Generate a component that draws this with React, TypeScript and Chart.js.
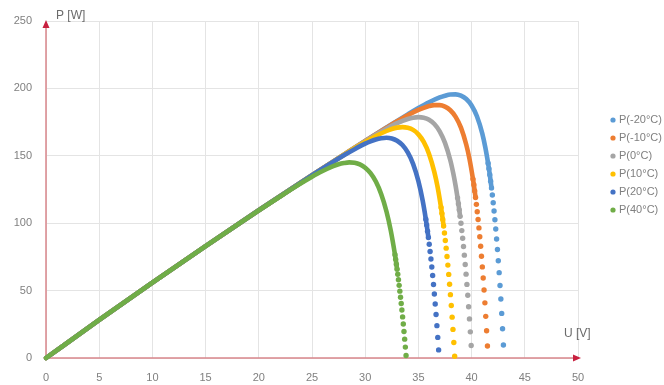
import React, { useEffect, useRef } from "react";
import { Chart, registerables } from "chart.js";

Chart.register(...registerables);

// ---- Data ----
const seriesLabels = ["P(-20°C)", "P(-10°C)", "P(0°C)", "P(10°C)", "P(20°C)", "P(40°C)"];
const seriesColors = ["#5B9BD5", "#ED7D31", "#A5A5A5", "#FFC000", "#4472C4", "#70AD47"];

const xTickValues = [0, 5, 10, 15, 20, 25, 30, 35, 40, 45, 50];
const yTickValues = [0, 50, 100, 150, 200, 250];

// P(-20°C)
const lineV_m20 = [0, 5, 10, 15, 20, 25, 28, 30, 32, 34, 35, 36, 37, 37.5, 38, 38.5, 39, 39.5, 40, 40.5, 41, 41.3, 41.55, 41.63, 41.71, 41.79, 41.87];
const lineP_m20 = [0, 28.2, 55.9, 83.0, 109.6, 135.6, 150.9, 161.0, 171.0, 180.7, 185.4, 189.7, 193.3, 194.6, 195.5, 195.6, 194.6, 192.1, 187.3, 179.3, 166.6, 155.8, 144.5, 140.4, 136.0, 131.2, 126.2];
const dotV_m20 = [41.55, 41.63, 41.71, 41.79, 41.87, 41.95, 42.03, 42.11, 42.19, 42.27, 42.35, 42.43, 42.51, 42.59, 42.67, 42.75, 42.83, 42.91, 42.99];
const dotP_m20 = [144.5, 140.4, 136.0, 131.2, 126.2, 120.9, 115.2, 109.1, 102.6, 95.7, 88.3, 80.5, 72.1, 63.3, 53.8, 43.8, 33.1, 21.7, 9.6];

// P(-10°C)
const lineV_m10 = [0, 5, 10, 15, 20, 25, 28, 30, 32, 33, 34, 35, 35.5, 36, 36.5, 37, 37.5, 38, 38.5, 39, 39.5, 39.8, 40.13, 40.21, 40.29, 40.37];
const lineP_m10 = [0, 28.2, 55.9, 83.0, 109.6, 135.6, 150.9, 161.0, 170.8, 175.6, 180.1, 184.0, 185.6, 186.9, 187.6, 187.6, 186.5, 183.8, 178.9, 170.9, 158.2, 147.7, 132.7, 128.5, 123.9, 119.1];
const dotV_m10 = [40.13, 40.21, 40.29, 40.37, 40.45, 40.53, 40.61, 40.69, 40.77, 40.85, 40.93, 41.01, 41.09, 41.17, 41.25, 41.33, 41.41, 41.49];
const dotP_m10 = [132.7, 128.5, 123.9, 119.1, 114.0, 108.5, 102.7, 96.5, 89.9, 82.9, 75.5, 67.6, 59.3, 50.4, 40.9, 30.9, 20.2, 8.9];

// P(0°C)
const lineV_0 = [0, 5, 10, 15, 20, 25, 28, 30, 31, 32, 33, 34, 34.5, 35, 35.5, 36, 36.5, 37, 37.5, 38, 38.3, 38.5, 38.68, 38.76, 38.84, 38.92];
const lineP_0 = [0, 28.2, 55.9, 83.0, 109.6, 135.6, 150.8, 160.8, 165.6, 170.1, 174.2, 177.3, 178.3, 178.7, 178.3, 176.8, 173.6, 168.2, 159.6, 146.7, 136.1, 127.6, 118.8, 114.5, 109.9, 105.1];
const dotV_0 = [38.68, 38.76, 38.84, 38.92, 39.0, 39.08, 39.16, 39.24, 39.32, 39.4, 39.48, 39.56, 39.64, 39.72, 39.8, 39.88, 39.96];
const dotP_0 = [118.8, 114.5, 109.9, 105.1, 100.0, 94.5, 88.8, 82.7, 76.3, 69.4, 62.2, 54.6, 46.5, 38.0, 29.0, 19.4, 9.3];

// P(10°C)
const lineV_10 = [0, 5, 10, 15, 20, 24, 27, 29, 30, 31, 32, 32.5, 33, 33.5, 34, 34.5, 35, 35.5, 36, 36.5, 36.8, 37.13, 37.21, 37.29, 37.37];
const lineP_10 = [0, 28.2, 55.9, 83.0, 109.6, 130.4, 145.7, 155.6, 160.3, 164.7, 168.4, 169.9, 170.9, 171.3, 170.8, 169.2, 165.9, 160.3, 151.4, 137.9, 127.0, 111.6, 107.3, 102.7, 97.9];
const dotV_10 = [37.13, 37.21, 37.29, 37.37, 37.45, 37.53, 37.61, 37.69, 37.77, 37.85, 37.93, 38.01, 38.09, 38.17, 38.25, 38.33, 38.41];
const dotP_10 = [111.6, 107.3, 102.7, 97.9, 92.7, 87.2, 81.5, 75.3, 68.9, 62.0, 54.7, 47.0, 38.9, 30.3, 21.2, 11.5, 1.3];

// P(20°C)
const lineV_20 = [0, 5, 10, 15, 20, 24, 26, 28, 29, 30, 30.5, 31, 31.5, 32, 32.5, 33, 33.5, 34, 34.5, 35, 35.4, 35.7, 35.78, 35.86, 35.94];
const lineP_20 = [0, 28.2, 55.9, 83.0, 109.6, 130.4, 140.6, 150.4, 154.9, 159.0, 160.7, 162.1, 163.0, 163.4, 162.9, 161.2, 158.0, 152.5, 144.0, 131.2, 116.8, 102.9, 98.6, 94.1, 89.4];
const dotV_20 = [35.7, 35.78, 35.86, 35.94, 36.02, 36.1, 36.18, 36.26, 36.34, 36.42, 36.5, 36.58, 36.66, 36.74, 36.82, 36.9];
const dotP_20 = [102.9, 98.6, 94.1, 89.4, 84.4, 79.0, 73.4, 67.5, 61.2, 54.5, 47.5, 40.1, 32.3, 24.0, 15.3, 6.0];

// P(40°C)
const lineV_40 = [0, 5, 10, 15, 18, 20, 22, 23, 24, 25, 25.5, 26, 26.5, 27, 27.5, 28, 28.5, 29, 29.5, 30, 30.5, 31, 31.5, 32, 32.4, 32.8, 32.865, 32.93, 32.995];
const lineP_40 = [0, 28.2, 55.9, 83.0, 99.0, 109.5, 119.8, 124.9, 129.8, 134.5, 136.7, 138.7, 140.6, 142.3, 143.7, 144.6, 145.1, 144.8, 143.6, 141.2, 137.1, 130.9, 121.7, 108.7, 94.7, 76.6, 73.2, 69.6, 65.9];
const dotV_40 = [32.8, 32.865, 32.93, 32.995, 33.06, 33.125, 33.19, 33.255, 33.32, 33.385, 33.45, 33.515, 33.58, 33.645, 33.71, 33.775, 33.84];
const dotP_40 = [76.6, 73.2, 69.6, 65.9, 62.1, 58.1, 53.9, 49.6, 45.1, 40.4, 35.6, 30.5, 25.2, 19.7, 14.0, 8.1, 1.9];

const xTitle = "U [V]";
const yTitle = "P [W]";

const seriesTable = [
  { lineV: lineV_m20, lineP: lineP_m20, dotV: dotV_m20, dotP: dotP_m20 },
  { lineV: lineV_m10, lineP: lineP_m10, dotV: dotV_m10, dotP: dotP_m10 },
  { lineV: lineV_0, lineP: lineP_0, dotV: dotV_0, dotP: dotP_0 },
  { lineV: lineV_10, lineP: lineP_10, dotV: dotV_10, dotP: dotP_10 },
  { lineV: lineV_20, lineP: lineP_20, dotV: dotV_20, dotP: dotP_20 },
  { lineV: lineV_40, lineP: lineP_40, dotV: dotV_40, dotP: dotP_40 },
];

const FONT = '"Liberation Sans", Arial, sans-serif';
const AXIS_LINE = "#d9868c";
const ARROW = "#c8203f";

const axesPlugin = {
  id: "customAxes",
  beforeDatasetsDraw(chart: any) {
    const { ctx, chartArea: a } = chart;
    ctx.save();
    ctx.strokeStyle = AXIS_LINE;
    ctx.lineWidth = 1.5;
    ctx.beginPath();
    ctx.moveTo(a.left, a.bottom);
    ctx.lineTo(a.left, a.top + 4);
    ctx.moveTo(a.left, a.bottom);
    ctx.lineTo(a.right - 2, a.bottom);
    ctx.stroke();
    ctx.restore();
  },
  afterDatasetsDraw(chart: any) {
    const { ctx, chartArea: a } = chart;
    ctx.save();
    ctx.fillStyle = ARROW;
    ctx.beginPath();
    ctx.moveTo(a.left, a.top - 1);
    ctx.lineTo(a.left - 3.5, a.top + 7);
    ctx.lineTo(a.left + 3.5, a.top + 7);
    ctx.closePath();
    ctx.fill();
    ctx.beginPath();
    ctx.moveTo(a.right + 3, a.bottom);
    ctx.lineTo(a.right - 5, a.bottom - 3.5);
    ctx.lineTo(a.right - 5, a.bottom + 3.5);
    ctx.closePath();
    ctx.fill();
    ctx.fillStyle = "#6b6b6b";
    ctx.font = `12px ${FONT}`;
    ctx.textAlign = "left";
    ctx.textBaseline = "middle";
    ctx.fillText(yTitle, a.left + 10, a.top - 5);
    ctx.fillText(xTitle, a.right - 14, a.bottom - 24);
    ctx.restore();
  },
};

const legendPlugin = {
  id: "customLegend",
  afterDraw(chart: any) {
    const { ctx } = chart;
    ctx.save();
    ctx.font = `11px ${FONT}`;
    ctx.textAlign = "left";
    ctx.textBaseline = "middle";
    seriesLabels.forEach((label, i) => {
      const y = 120 + i * 18;
      ctx.fillStyle = seriesColors[i];
      ctx.beginPath();
      ctx.arc(613, y, 2.6, 0, Math.PI * 2);
      ctx.fill();
      ctx.fillStyle = "#808080";
      ctx.fillText(label, 619, y);
    });
    ctx.restore();
  },
};

export default function App() {
  const ref = useRef<HTMLCanvasElement>(null);

  useEffect(() => {
    const canvas = ref.current;
    if (!canvas) return;
    const datasets: any[] = [];
    seriesTable.forEach((s, i) => {
      datasets.push({
        label: seriesLabels[i],
        data: s.lineV.map((v, j) => ({ x: v, y: s.lineP[j] })),
        showLine: true,
        borderColor: seriesColors[i],
        backgroundColor: seriesColors[i],
        borderWidth: 4.6,
        borderCapStyle: "round",
        borderJoinStyle: "round",
        cubicInterpolationMode: "monotone",
        pointRadius: 0,
        pointHoverRadius: 0,
        order: 10 - i,
        clip: false,
      });
      datasets.push({
        label: seriesLabels[i],
        data: s.dotV.map((v, j) => ({ x: v, y: s.dotP[j] })),
        showLine: false,
        pointRadius: 2.7,
        pointBorderWidth: 0,
        pointBackgroundColor: seriesColors[i],
        pointBorderColor: seriesColors[i],
        order: 10 - i,
        clip: false,
      });
    });

    const chart = new Chart(canvas, {
      type: "scatter",
      data: { datasets },
      options: {
        animation: false,
        responsive: false,
        devicePixelRatio: 1,
        events: [],
        layout: { padding: { left: 0, right: 86, top: 21, bottom: 0 } },
        plugins: { legend: { display: false }, tooltip: { enabled: false } },
        scales: {
          x: {
            type: "linear",
            min: 0,
            max: 50,
            afterBuildTicks: (scale: any) => {
              scale.ticks = xTickValues.map((v) => ({ value: v }));
            },
            afterFit: (scale: any) => {
              scale.height = 27;
            },
            grid: { color: "#e4e4e4", lineWidth: 1, drawTicks: false },
            border: { display: false },
            ticks: {
              padding: 13,
              color: "#808080",
              font: { family: FONT, size: 11 },
              maxRotation: 0,
              callback: (v: any) => String(v),
            },
          },
          y: {
            type: "linear",
            min: 0,
            max: 250,
            afterBuildTicks: (scale: any) => {
              scale.ticks = yTickValues.map((v) => ({ value: v }));
            },
            afterFit: (scale: any) => {
              scale.width = 46;
            },
            grid: { color: "#e4e4e4", lineWidth: 1, drawTicks: false },
            border: { display: false },
            ticks: {
              padding: 14,
              color: "#808080",
              font: { family: FONT, size: 11 },
              callback: (v: any) => String(v),
            },
          },
        },
      },
      plugins: [axesPlugin, legendPlugin],
    });
    return () => chart.destroy();
  }, []);

  return (
    <div style={{ position: "absolute", left: 0, top: 0, width: 664, height: 385, background: "#ffffff" }}>
      <canvas ref={ref} width={664} height={385} style={{ display: "block", width: 664, height: 385 }} />
    </div>
  );
}
